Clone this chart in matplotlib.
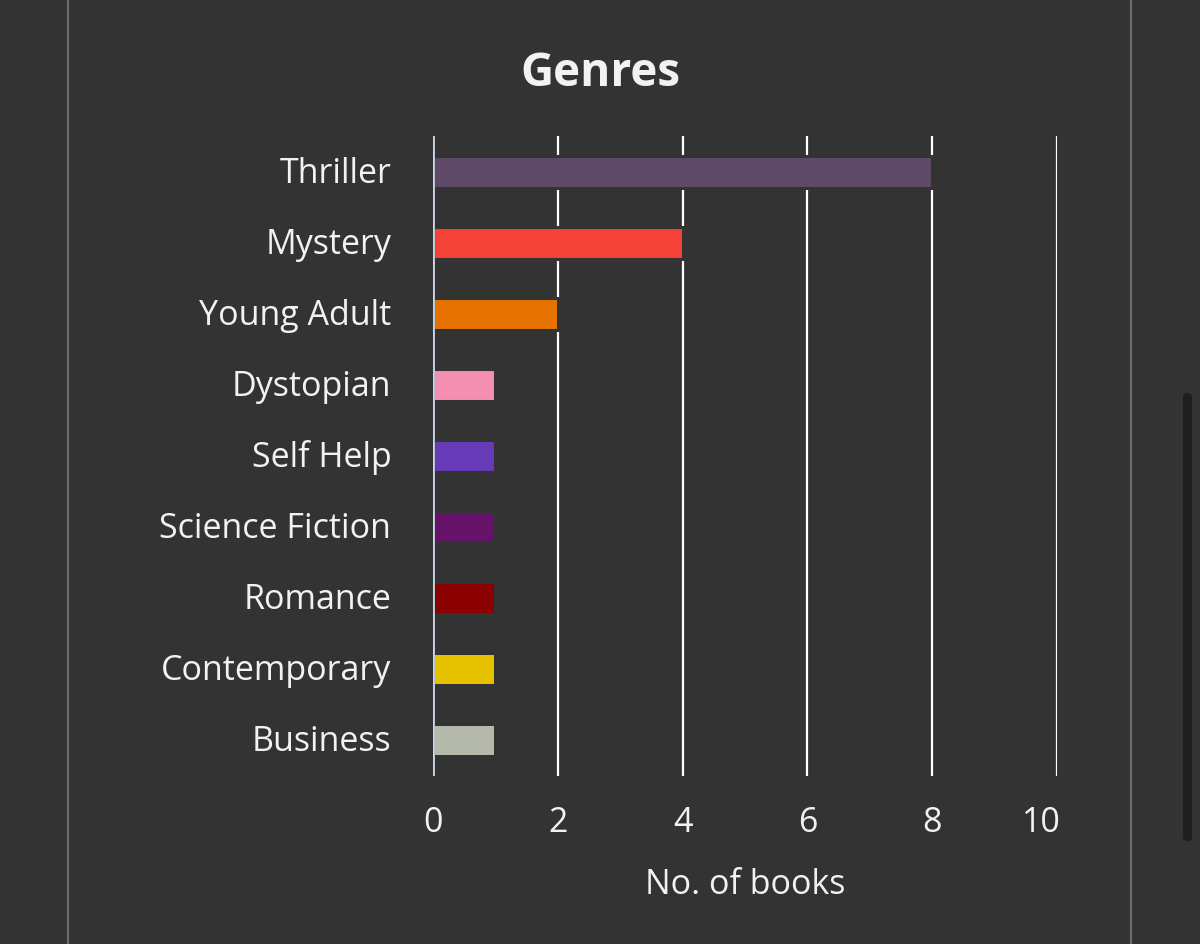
import matplotlib
matplotlib.use("Agg")
import matplotlib.pyplot as plt
import matplotlib.transforms as mtransforms
from matplotlib.lines import Line2D
from matplotlib.patches import FancyBboxPatch

genres = ["Thriller", "Mystery", "Young Adult", "Dystopian", "Self Help",
          "Science Fiction", "Romance", "Contemporary", "Business"]
counts = [8, 4, 2, 1, 1, 1, 1, 1, 1]
colors = ["#5e4a66", "#f44336", "#e67300", "#f48fb1", "#673ab7",
          "#66126a", "#8b0000", "#e6c200", "#b5baad"]
xticks = [0, 2, 4, 6, 8, 10]

BG = "#333333"
FONT = ["Open Sans", "DejaVu Sans"]
plt.rcParams["font.family"] = FONT

fig = plt.figure(figsize=(12, 9.45), dpi=100, facecolor=BG)
ax = fig.add_axes([433/1200, 168/945, 624/1200, 640/945])
ax.set_facecolor(BG)

ypos = list(range(len(genres)))
ax.set_xlim(0, 10)
ax.set_ylim(len(genres) - 0.5, -0.5)
ax.set_xticks(xticks)
ax.grid(axis="x", color="#ffffff", linewidth=1.6, zorder=1)
ax.set_axisbelow(True)
ax.barh(ypos, counts, height=0.45, color=colors, edgecolor=BG,
        linewidth=2.2, zorder=2)
ax.axvline(0, color="#c9d6e8", linewidth=2.0, zorder=3)

ax.set_yticks(ypos)
ax.set_yticklabels(genres)
for s in ax.spines.values():
    s.set_visible(False)
ax.tick_params(axis="both", length=0, colors="#f2f2f2", labelsize=24.5)
ax.tick_params(axis="y", pad=30)
ax.tick_params(axis="x", pad=21)
ax.set_xlabel("No. of books", color="#f2f2f2", fontsize=24.5, labelpad=20)

# nudge y labels up slightly
for t in ax.get_yticklabels():
    t.set_transform(t.get_transform() +
                    mtransforms.ScaledTranslation(0, 3/100, fig.dpi_scale_trans))
# last x tick label sits slightly left of its gridline in the reference
lbl = ax.get_xticklabels()[-1]
lbl.set_transform(lbl.get_transform() +
                  mtransforms.ScaledTranslation(-16/100, 0, fig.dpi_scale_trans))

fig.text(0.5, 1 - 74/945, "Genres", ha="center", va="center",
         color="#f2f2f2", fontsize=33, fontweight="bold")

for xx in (68, 1131):
    fig.add_artist(Line2D([xx/1200, xx/1200], [0, 1], color="#6c6c6c",
                          linewidth=1.6, transform=fig.transFigure))
fig.add_artist(FancyBboxPatch((1183/1200, (945-842)/945), 9/1200, 448/945,
                              boxstyle="round,pad=0,rounding_size=0.004",
                              facecolor="#1e1e1e", edgecolor="none",
                              transform=fig.transFigure))

fig.savefig("out.png", dpi=100, facecolor=BG)
